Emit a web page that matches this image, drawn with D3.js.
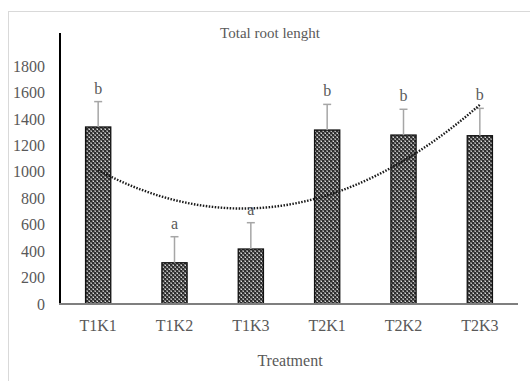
<!DOCTYPE html>
<html><head><meta charset="utf-8">
<script src="https://cdn.jsdelivr.net/npm/d3@7"></script>
<style>body{margin:0;background:#fff}svg{display:block}text{font-family:"Liberation Serif","Times New Roman",serif;fill:#595959}</style>
</head><body>
<script>
const categories = ["T1K1","T1K2","T1K3","T2K1","T2K2","T2K3"];
const values = [1339, 312, 416, 1316, 1278, 1273];
const errors = [192, 197, 199, 194, 195, 207];
const letters = ["b","a","a","b","b","b"];
const yTicks = [0,200,400,600,800,1000,1200,1400,1600,1800];
const title = "Total root lenght";
const xTitle = "Treatment";

const W = 530, H = 381;
const svg = d3.select("body").append("svg").attr("width", W).attr("height", H);

const defs = svg.append("defs");
const pat = defs.append("pattern").attr("id","chk").attr("patternUnits","userSpaceOnUse").attr("width",4).attr("height",4);
pat.append("rect").attr("width",4).attr("height",4).attr("fill","#2e2e2e");
pat.append("rect").attr("x",0).attr("y",0).attr("width",2).attr("height",2).attr("fill","#777");
pat.append("rect").attr("x",2).attr("y",2).attr("width",2).attr("height",2).attr("fill","#777");
pat.append("rect").attr("x",1).attr("y",1).attr("width",1).attr("height",1).attr("fill","#ddd");
pat.append("rect").attr("x",3).attr("y",3).attr("width",1).attr("height",1).attr("fill","#bbb");

// outer frame
svg.append("rect").attr("x",8.5).attr("y",11.5).attr("width",540).attr("height",400)
  .attr("fill","none").attr("stroke","#d9d9d9").attr("stroke-width",1);

const x = d3.scaleBand().domain(categories).range([60, 518]).paddingInner(0.67).paddingOuter(0.335);
const y = d3.scaleLinear().domain([0, 2050]).range([304, 33]);

// y tick labels
const yAxis = d3.axisLeft(y).tickValues(yTicks).tickFormat(d3.format("d")).tickSize(0).tickPadding(15);
const gy = svg.append("g").attr("transform","translate(60,0)").call(yAxis);
gy.select(".domain").remove();
gy.attr("font-family", null).attr("font-size", null);
gy.selectAll("text").style("font-size","16px").attr("fill","#595959").style("font-family","Liberation Serif");

// bars
svg.append("g").selectAll("rect").data(categories).join("rect")
  .attr("x", d => x(d)).attr("width", x.bandwidth())
  .attr("y", (d,i) => y(values[i])).attr("height", (d,i) => y(0) - y(values[i]))
  .attr("fill","url(#chk)").attr("stroke","#111").attr("stroke-width",1.3);

// error bars
const eg = svg.append("g").attr("stroke","#a6a6a6").attr("stroke-width",1.5);
categories.forEach((c,i) => {
  const cx = x(c) + x.bandwidth()/2;
  eg.append("line").attr("x1",cx).attr("x2",cx).attr("y1",y(values[i])).attr("y2",y(values[i]+errors[i]));
  eg.append("line").attr("x1",cx-4).attr("x2",cx+4).attr("y1",y(values[i]+errors[i])).attr("y2",y(values[i]+errors[i]));
});

// axes lines
svg.append("line").attr("x1",60).attr("x2",60).attr("y1",33).attr("y2",305).attr("stroke","#000").attr("stroke-width",2);
svg.append("line").attr("x1",59).attr("x2",518).attr("y1",304).attr("y2",304).attr("stroke","#7f7f7f").attr("stroke-width",2);

// polynomial (order 2) trendline fitted to the values
const n = values.length;
const xs = d3.range(1, n+1);
let S = [0,0,0,0,0], T = [0,0,0];
xs.forEach((xv,i) => { for (let k=0;k<5;k++) S[k]+=Math.pow(xv,k); for (let k=0;k<3;k++) T[k]+=values[i]*Math.pow(xv,k); });
function solve3(A,b){ const M=A.map((r,i)=>[...r,b[i]]); for(let i=0;i<3;i++){ let p=i; for(let r=i+1;r<3;r++) if(Math.abs(M[r][i])>Math.abs(M[p][i])) p=r; [M[i],M[p]]=[M[p],M[i]]; for(let r=0;r<3;r++){ if(r===i) continue; const f=M[r][i]/M[i][i]; for(let c=i;c<4;c++) M[r][c]-=f*M[i][c]; } } return M.map((r,i)=>r[3]/r[i]); }
const coef = solve3([[S[0],S[1],S[2]],[S[1],S[2],S[3]],[S[2],S[3],S[4]]], T);
const xi = d3.scaleLinear().domain([1, n]).range([x(categories[0])+x.bandwidth()/2, x(categories[n-1])+x.bandwidth()/2]);
const pts = d3.range(0, 101).map(k => { const t = 1 + (n-1)*k/100; return [xi(t), y(coef[0]+coef[1]*t+coef[2]*t*t)]; });
svg.append("path").attr("d", d3.line()(pts)).attr("fill","none").attr("stroke","#1a1a1a")
  .attr("stroke-width",2.4).attr("stroke-dasharray","1.5,1.5");

// letters
svg.append("g").selectAll("text").data(categories).join("text")
  .attr("x", d => x(d) + x.bandwidth()/2).attr("y", (d,i) => y(values[i]+errors[i]) - 8)
  .attr("text-anchor","middle").style("font-size","16px").text((d,i) => letters[i]);

// x labels
svg.append("g").selectAll("text").data(categories).join("text")
  .attr("x", d => x(d) + x.bandwidth()/2).attr("y", 331)
  .attr("text-anchor","middle").style("font-size","16px").text(d => d);

svg.append("text").attr("x",270).attr("y",38).attr("text-anchor","middle").style("font-size","15px").text(title);
svg.append("text").attr("x",290).attr("y",366).attr("text-anchor","middle").style("font-size","16px").text(xTitle);
</script>
</body></html>
